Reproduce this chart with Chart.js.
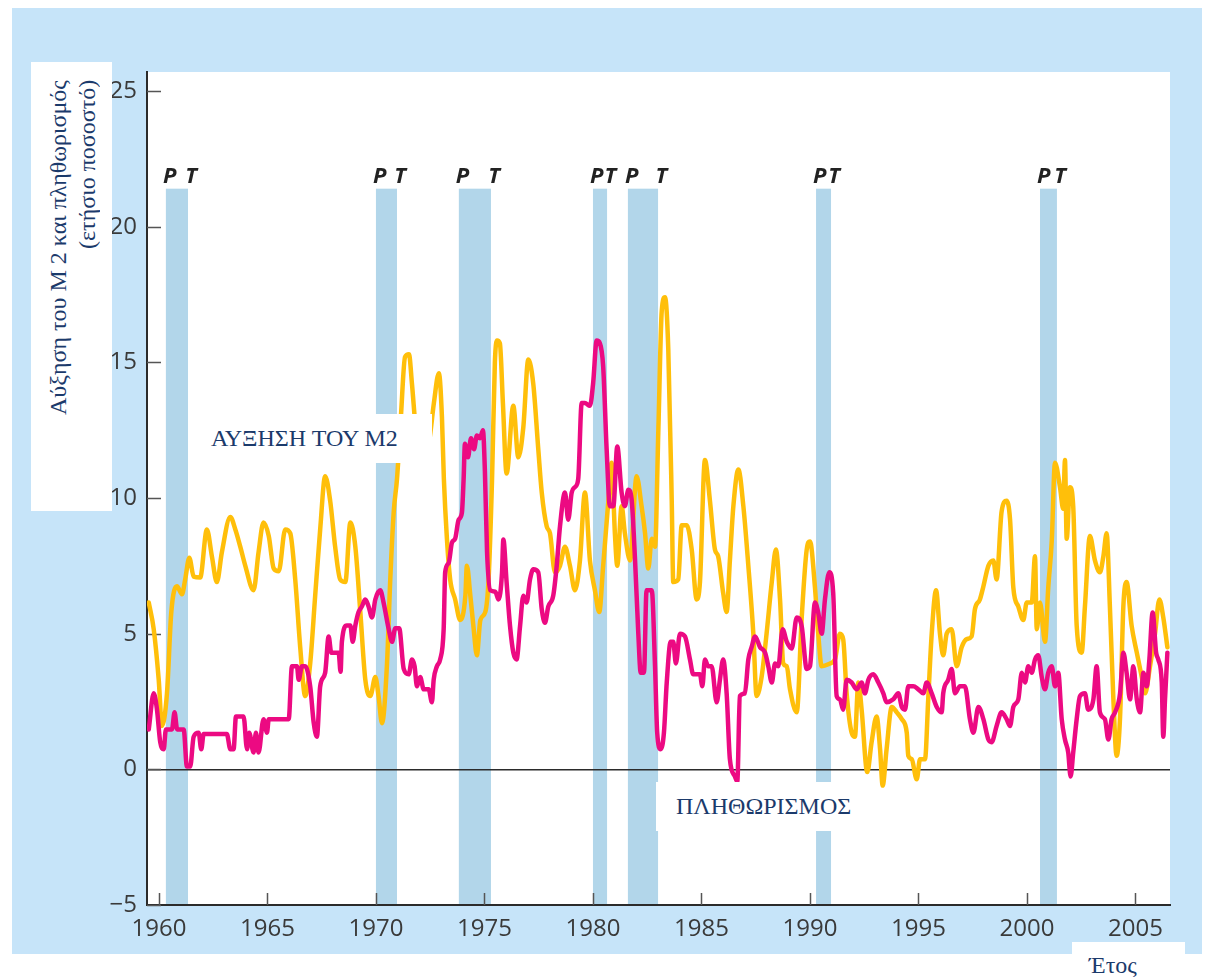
<!DOCTYPE html>
<html>
<head>
<meta charset="utf-8">
<script src="https://cdn.jsdelivr.net/npm/chart.js@4.4.1/dist/chart.umd.min.js"></script>
<style>
  body { margin: 0; background: #fff; width: 1214px; height: 978px; overflow: hidden; position: relative; }
  #frame { position: absolute; left: 12px; top: 8px; width: 1190px; height: 946px; background: #c6e4f9; }
  #chart { position: absolute; left: 0; top: 0; }
  .box { position: absolute; background: #fff; color: #1b3a6b; font-family: "Liberation Serif", serif; font-size: 24px; white-space: nowrap; overflow: hidden; }
  #ytitle-text { position: absolute; left: 13px; top: 18px; height: 345px; width: 58px; writing-mode: vertical-rl; transform: rotate(180deg); text-align: end; line-height: 29px; }
</style>
</head>
<body>
<div id="frame"></div>
<canvas id="chart" width="1214" height="978"></canvas>

<div class="box" style="left:31px; top:62px; width:81px; height:449px;">
  <div id="ytitle-text">Αύξηση του Μ 2 και πληθωρισμός<br>(ετήσιο ποσοστό)</div>
</div>
<div class="box" style="left:200px; top:414px; width:232px; height:49px; line-height:49px; padding-left:11px; box-sizing:border-box;">ΑΥΞΗΣΗ ΤΟΥ Μ2</div>
<div class="box" style="left:656px; top:782px; width:206px; height:49px; line-height:49px; padding-left:20px; box-sizing:border-box;">ΠΛΗΘΩΡΙΣΜΟΣ</div>
<div class="box" style="left:1072px; top:942px; width:113px; height:36px; line-height:46px; padding-left:17px; box-sizing:border-box;">Έτος</div>

<script>
// M2 growth (yellow)
const m2Years = [
  1959.53, 1959.76, 1959.99, 1960.14, 1960.37, 1960.57, 1960.83, 1961.06, 1961.21, 1961.40,
  1961.60, 1961.90, 1962.21, 1962.44, 1962.67, 1962.90, 1963.29, 1963.52, 1963.75, 1963.98,
  1964.36, 1964.59, 1964.82, 1965.06, 1965.29, 1965.52, 1965.82, 1966.05, 1966.28, 1966.51,
  1966.74, 1966.97, 1967.20, 1967.43, 1967.66, 1967.89, 1968.12, 1968.35, 1968.59, 1968.82,
  1969.05, 1969.28, 1969.51, 1969.74, 1969.97, 1970.12, 1970.28, 1970.51, 1970.66, 1970.82,
  1970.97, 1971.15, 1971.34, 1971.52, 1971.66, 1971.84, 1972.07, 1972.30, 1972.49, 1972.67,
  1972.90, 1973.04, 1973.13, 1973.27, 1973.42, 1973.65, 1973.88, 1974.12, 1974.19, 1974.35,
  1974.50, 1974.65, 1974.81, 1975.04, 1975.19, 1975.35, 1975.48, 1975.58, 1975.71, 1975.85,
  1976.02, 1976.33, 1976.56, 1976.79, 1977.02, 1977.25, 1977.48, 1977.64, 1977.87, 1978.02,
  1978.25, 1978.48, 1978.71, 1978.94, 1979.17, 1979.40, 1979.63, 1979.86, 1980.09, 1980.29,
  1980.47, 1980.71, 1980.86, 1981.01, 1981.12, 1981.32, 1981.47, 1981.71, 1982.01, 1982.24,
  1982.40, 1982.55, 1982.71, 1982.86, 1983.01, 1983.17, 1983.32, 1983.47, 1983.63, 1983.70,
  1983.93, 1984.09, 1984.32, 1984.55, 1984.78, 1984.93, 1985.16, 1985.39, 1985.62, 1985.77,
  1986.00, 1986.16, 1986.31, 1986.47, 1986.70, 1986.93, 1987.16, 1987.39, 1987.54, 1987.77,
  1988.00, 1988.24, 1988.43, 1988.62, 1988.77, 1988.93, 1989.08, 1989.39, 1989.62, 1989.85,
  1990.00, 1990.23, 1990.38, 1990.54, 1990.92, 1991.15, 1991.38, 1991.53, 1991.69, 1991.92,
  1992.07, 1992.23, 1992.38, 1992.64, 1992.84, 1993.07, 1993.23, 1993.35, 1993.53, 1993.77,
  1994.00, 1994.23, 1994.46, 1994.53, 1994.69, 1994.92, 1995.07, 1995.30, 1995.45, 1995.61,
  1995.81, 1995.99, 1996.14, 1996.30, 1996.53, 1996.76, 1996.99, 1997.22, 1997.45, 1997.60,
  1997.83, 1997.99, 1998.22, 1998.45, 1998.60, 1998.83, 1999.06, 1999.22, 1999.37, 1999.60,
  1999.83, 1999.99, 2000.22, 2000.37, 2000.45, 2000.60, 2000.83, 2000.98, 2001.14, 2001.29,
  2001.52, 2001.67, 2001.75, 2001.83, 2001.98, 2002.13, 2002.29, 2002.52, 2002.67, 2002.90,
  2003.13, 2003.36, 2003.52, 2003.67, 2003.82, 2003.98, 2004.13, 2004.29, 2004.44, 2004.59,
  2004.82, 2005.06, 2005.29, 2005.44, 2005.67, 2005.90, 2006.10, 2006.28, 2006.47
];
const m2Growth = [
  6.15, 5.16, 3.3, 1.6, 2.8, 5.8, 6.75, 6.45, 7.0, 7.8,
  7.1, 7.07, 8.84, 7.85, 6.9, 8.0, 9.3, 8.84, 8.2, 7.5,
  6.6, 8.0, 9.1, 8.6, 7.4, 7.3, 8.84, 8.7, 7.0, 4.5,
  2.7, 3.9, 6.4, 8.84, 10.8, 9.9, 8.2, 7.0, 6.9, 9.1,
  8.2, 5.8, 3.3, 2.7, 3.4, 2.7, 1.7, 3.9, 7.0, 9.5,
  10.7, 13.0, 15.2, 15.3, 14.2, 12.5, 11.4, 11.5, 12.3, 13.5,
  14.6, 13.0, 10.7, 8.5, 7.0, 6.26, 5.5, 6.4, 7.5, 6.4,
  5.2, 4.2, 5.5, 5.8, 7.0, 10.7, 15.0, 15.8, 15.7, 13.5,
  10.9, 13.4, 11.5, 12.6, 15.1, 14.2, 11.8, 10.2, 8.95, 8.7,
  7.26, 7.5, 8.2, 7.5, 6.6, 7.7, 10.2, 7.7, 6.6, 5.8,
  7.5, 9.9, 11.3, 8.7, 7.5, 9.7, 8.7, 7.7, 10.8, 9.7,
  8.7, 7.4, 8.5, 8.2, 12.4, 16.9, 17.4, 15.5, 9.9, 6.9,
  7.0, 9.0, 9.0, 8.1, 6.26, 6.9, 11.4, 9.9, 8.1, 7.85,
  6.5, 5.8, 7.7, 9.7, 11.05, 9.7, 7.5, 5.0, 2.7, 3.4,
  5.0, 6.9, 8.1, 6.26, 3.9, 3.8, 2.95, 2.1, 5.6, 8.1,
  8.4, 6.7, 5.0, 3.8, 3.9, 4.05, 5.0, 4.8, 2.8, 1.35,
  1.2, 3.2, 2.2, -0.1, 1.0, 1.95, 0.74, -0.6, 0.74, 2.3,
  2.1, 1.85, 1.35, 0.5, 0.37, -0.37, 0.37, 0.37, 2.6, 5.0,
  6.6, 5.0, 4.2, 5.0, 5.16, 3.8, 4.5, 4.8, 4.9, 5.9,
  6.26, 6.74, 7.5, 7.7, 7.0, 9.5, 9.9, 9.2, 6.7, 6.0,
  5.5, 6.15, 6.15, 7.85, 5.16, 6.15, 4.7, 6.7, 8.4, 11.3,
  10.4, 9.6, 11.4, 8.5, 10.4, 9.7, 5.3, 4.3, 6.0, 8.6,
  7.7, 7.26, 7.85, 8.7, 6.0, 2.6, 0.5, 1.95, 6.0, 6.9,
  5.3, 4.3, 3.4, 2.8, 3.8, 5.0, 6.26, 5.6, 4.5
];

// inflation (magenta)
const cpiYears = [
  1959.53, 1959.76, 1959.91, 1960.06, 1960.22, 1960.32, 1960.60, 1960.72, 1960.84, 1961.14,
  1961.29, 1961.44, 1961.60, 1961.83, 1961.95, 1962.06, 1963.13, 1963.29, 1963.44, 1963.55,
  1963.90, 1964.06, 1964.16, 1964.36, 1964.47, 1964.59, 1964.82, 1964.98, 1965.06, 1965.98,
  1966.13, 1966.36, 1966.44, 1966.59, 1966.74, 1966.97, 1967.13, 1967.28, 1967.43, 1967.66,
  1967.82, 1967.94, 1968.28, 1968.37, 1968.43, 1968.66, 1968.82, 1968.93, 1969.05, 1969.20,
  1969.35, 1969.51, 1969.66, 1969.82, 1969.97, 1970.20, 1970.35, 1970.59, 1970.74, 1970.89,
  1971.07, 1971.28, 1971.51, 1971.66, 1971.78, 1971.89, 1972.04, 1972.20, 1972.43, 1972.58,
  1972.66, 1972.81, 1972.96, 1973.12, 1973.19, 1973.35, 1973.50, 1973.65, 1973.81, 1973.96,
  1974.04, 1974.10, 1974.24, 1974.38, 1974.52, 1974.65, 1974.79, 1974.93, 1975.02, 1975.12,
  1975.27, 1975.50, 1975.65, 1975.81, 1975.87, 1976.02, 1976.18, 1976.33, 1976.48, 1976.64,
  1976.79, 1976.94, 1977.10, 1977.25, 1977.48, 1977.64, 1977.79, 1977.94, 1978.17, 1978.33,
  1978.48, 1978.71, 1978.86, 1979.02, 1979.17, 1979.32, 1979.48, 1979.63, 1979.86, 1980.01,
  1980.17, 1980.32, 1980.47, 1980.63, 1980.78, 1980.94, 1981.12, 1981.32, 1981.47, 1981.63,
  1981.78, 1981.94, 1982.09, 1982.20, 1982.35, 1982.47, 1982.71, 1982.86, 1982.96, 1983.12,
  1983.27, 1983.40, 1983.58, 1983.70, 1983.82, 1984.01, 1984.24, 1984.47, 1984.62, 1984.93,
  1985.04, 1985.16, 1985.31, 1985.47, 1985.70, 1985.85, 1986.00, 1986.16, 1986.31, 1986.54,
  1986.65, 1986.77, 1987.00, 1987.16, 1987.31, 1987.47, 1987.70, 1987.93, 1988.08, 1988.24,
  1988.39, 1988.54, 1988.74, 1988.93, 1989.16, 1989.39, 1989.62, 1989.85, 1990.00, 1990.23,
  1990.38, 1990.54, 1990.69, 1990.89, 1991.07, 1991.23, 1991.38, 1991.53, 1991.69, 1991.92,
  1992.15, 1992.38, 1992.53, 1992.69, 1992.92, 1993.15, 1993.38, 1993.53, 1993.84, 1994.07,
  1994.23, 1994.38, 1994.53, 1994.76, 1994.99, 1995.22, 1995.38, 1995.61, 1995.84, 1996.07,
  1996.14, 1996.37, 1996.53, 1996.68, 1996.91, 1997.14, 1997.37, 1997.53, 1997.76, 1997.99,
  1998.22, 1998.37, 1998.60, 1998.83, 1999.06, 1999.22, 1999.37, 1999.60, 1999.76, 1999.91,
  2000.06, 2000.22, 2000.37, 2000.52, 2000.68, 2000.83, 2000.98, 2001.14, 2001.29, 2001.44,
  2001.60, 2001.75, 2001.90, 2002.01, 2002.13, 2002.29, 2002.44, 2002.67, 2002.82, 2003.06,
  2003.21, 2003.36, 2003.59, 2003.75, 2003.90, 2004.06, 2004.29, 2004.44, 2004.59, 2004.75,
  2004.90, 2005.06, 2005.21, 2005.36, 2005.52, 2005.64, 2005.79, 2005.95, 2006.05, 2006.21,
  2006.28, 2006.36, 2006.47
];
const inflation = [
  1.47, 2.8, 2.2, 1.0, 0.74, 1.47, 1.47, 2.1, 1.47, 1.47,
  0.1, 0.1, 1.2, 1.35, 0.74, 1.3, 1.3, 0.74, 0.74, 1.95,
  1.95, 0.74, 1.35, 0.62, 1.35, 0.62, 1.85, 1.35, 1.85, 1.85,
  3.8, 3.8, 3.3, 3.8, 3.8, 3.06, 1.73, 1.2, 3.06, 3.56,
  4.9, 4.3, 4.3, 3.6, 4.7, 5.3, 5.3, 4.7, 5.3, 5.8,
  6.0, 6.26, 6.0, 5.6, 6.26, 6.6, 6.15, 5.16, 4.7, 5.2,
  5.2, 3.7, 3.5, 4.05, 3.8, 3.06, 3.4, 2.95, 2.95, 2.47,
  3.3, 3.8, 4.05, 5.16, 7.26, 7.6, 8.35, 8.5, 9.2, 9.45,
  10.7, 12.0, 11.5, 12.2, 11.8, 12.3, 12.2, 12.5, 11.0, 8.0,
  6.6, 6.55, 6.26, 7.26, 8.47, 6.9, 5.27, 4.3, 4.05, 5.27,
  6.4, 6.15, 7.0, 7.37, 7.26, 5.9, 5.4, 6.0, 6.4, 7.5,
  8.95, 10.2, 9.2, 10.2, 10.4, 10.7, 13.5, 13.5, 13.4, 14.25,
  15.8, 15.7, 14.85, 11.8, 9.7, 9.7, 11.9, 10.2, 9.7, 10.3,
  9.95, 7.7, 5.0, 3.56, 3.56, 6.6, 6.6, 3.8, 1.35, 0.74,
  1.35, 3.2, 4.7, 4.7, 3.9, 5.0, 4.9, 4.05, 3.5, 3.5,
  3.06, 4.05, 3.8, 3.8, 2.47, 3.3, 4.05, 2.8, 0.37, -0.26,
  -0.45, 2.7, 2.8, 4.05, 4.5, 4.9, 4.5, 4.3, 3.8, 3.2,
  3.9, 3.8, 5.16, 4.7, 4.45, 5.6, 5.27, 3.7, 3.8, 6.15,
  5.78, 5.0, 6.26, 7.26, 6.5, 2.7, 2.58, 2.2, 3.3, 3.2,
  2.95, 3.2, 2.8, 3.3, 3.5, 3.2, 2.8, 2.47, 2.58, 2.8,
  2.3, 2.2, 3.06, 3.06, 2.95, 2.8, 3.2, 2.8, 2.3, 2.1,
  2.8, 3.3, 3.7, 2.8, 3.06, 3.06, 1.85, 1.35, 2.3, 1.85,
  1.1, 1.0, 1.6, 2.1, 1.85, 1.6, 2.3, 2.58, 3.56, 3.2,
  3.8, 3.56, 4.05, 4.2, 3.4, 2.95, 3.56, 3.8, 3.06, 3.56,
  1.85, 1.1, 0.62, -0.26, 0.62, 1.85, 2.7, 2.8, 2.2, 2.58,
  3.8, 2.1, 1.85, 1.1, 1.85, 2.1, 2.8, 4.3, 3.56, 2.58,
  3.8, 2.58, 2.1, 3.56, 3.06, 4.05, 5.78, 4.3, 4.05, 3.2,
  1.2, 2.58, 4.3
];

// recessions: peak (P) and trough (T)
const recessionStart = [1960.32, 1970.0, 1973.82, 1980.0, 1981.61, 1990.28, 2000.6];
const recessionEnd   = [1961.34, 1970.97, 1975.3, 1980.65, 1983.0, 1990.97, 2001.38];

const xTicks = [1960, 1965, 1970, 1975, 1980, 1985, 1990, 1995, 2000, 2005];
const yTicks = [-5, 0, 5, 10, 15, 20, 25];

const toPoints = (xs, ys) => xs.map((x, i) => ({ x: x, y: ys[i] }));

// background, recession shading, inward tick marks and P/T letters
const recessionPlugin = {
    id: 'recessions',
    beforeDraw(chart, args, opts) {
        const { ctx, chartArea: a, scales: { x, y } } = chart;
        ctx.save();
        ctx.fillStyle = '#ffffff';
        ctx.fillRect(a.left, a.top, a.right - a.left, a.bottom - a.top);
        const top = y.getPixelForValue(opts.top);
        ctx.fillStyle = '#b2d6ea';
        recessionStart.forEach((s, i) => {
            const x0 = x.getPixelForValue(s);
            const x1 = x.getPixelForValue(recessionEnd[i]);
            ctx.fillRect(x0, top, x1 - x0, a.bottom - top);
        });
        ctx.restore();
    },
    beforeDatasetsDraw(chart, args, opts) {
        const { ctx, chartArea: a, scales: { x, y } } = chart;
        ctx.save();
        ctx.strokeStyle = '#555';
        ctx.lineWidth = 1.5;
        ctx.beginPath();
        y.ticks.forEach(t => {
            const py = Math.round(y.getPixelForValue(t.value)) + 0.5;
            ctx.moveTo(a.left, py);
            ctx.lineTo(a.left + 14, py);
        });
        x.ticks.forEach(t => {
            const px = Math.round(x.getPixelForValue(t.value)) + 0.5;
            ctx.moveTo(px, a.bottom);
            ctx.lineTo(px, a.bottom - 12);
        });
        ctx.stroke();

        // P T labels over each shaded band
        const top = y.getPixelForValue(opts.top);
        ctx.fillStyle = '#222';
        ctx.font = 'italic bold 22px "Open Sans", sans-serif';
        ctx.textBaseline = 'alphabetic';
        recessionStart.forEach((s, i) => {
            const x0 = x.getPixelForValue(s);
            const x1 = x.getPixelForValue(recessionEnd[i]);
            ctx.textAlign = 'left';
            ctx.fillText('P', x0 - 3, top - 6);
            ctx.textAlign = 'right';
            ctx.fillText('T', x1 + 9, top - 6);
        });
        ctx.restore();
    }
};

const tickFont = { family: '"Open Sans", sans-serif', size: 24 };

new Chart(document.getElementById('chart').getContext('2d'), {
    type: 'line',
    data: {
        datasets: [{
            label: 'ΠΛΗΘΩΡΙΣΜΟΣ',
            data: toPoints(cpiYears, inflation),
            borderColor: '#ec0a82',
            borderWidth: 4.5,
            pointRadius: 0,
            cubicInterpolationMode: 'monotone',
            borderJoinStyle: 'round',
            borderCapStyle: 'round'
        }, {
            label: 'ΑΥΞΗΣΗ ΤΟΥ Μ2',
            data: toPoints(m2Years, m2Growth),
            borderColor: '#ffbf0a',
            borderWidth: 4.5,
            pointRadius: 0,
            cubicInterpolationMode: 'monotone',
            borderJoinStyle: 'round',
            borderCapStyle: 'round'
        }]
    },
    plugins: [recessionPlugin],
    options: {
        responsive: false,
        animation: false,
        devicePixelRatio: 1,
        layout: { padding: { left: 0, top: 72, right: 44, bottom: 0 } },
        plugins: {
            legend: { display: false },
            tooltip: { enabled: false },
            recessions: { top: 21.4 }
        },
        scales: {
            x: {
                type: 'linear',
                min: 1959.45,
                max: 2006.59,
                afterBuildTicks: s => { s.ticks = xTicks.map(v => ({ value: v })); },
                afterFit: s => { s.height = 73; },
                grid: { display: false, drawTicks: false },
                border: { display: true, color: '#2b2b2b', width: 2 },
                ticks: {
                    autoSkip: false,
                    maxRotation: 0,
                    padding: 10,
                    color: '#3a3a3a',
                    font: tickFont,
                    callback: v => String(v)
                }
            },
            y: {
                min: -5,
                max: 25.7,
                afterBuildTicks: s => { s.ticks = yTicks.map(v => ({ value: v })); },
                afterFit: s => { s.width = 147; },
                grid: {
                    drawTicks: false,
                    lineWidth: 1.5,
                    color: c => (c.tick && c.tick.value === 0) ? '#2b2b2b' : 'rgba(0,0,0,0)'
                },
                border: { display: true, color: '#2b2b2b', width: 2 },
                ticks: {
                    padding: 10,
                    color: '#3a3a3a',
                    font: tickFont,
                    callback: v => v < 0 ? '\u2212' + Math.abs(v) : String(v)
                }
            }
        }
    }
});
</script>
</body>
</html>
